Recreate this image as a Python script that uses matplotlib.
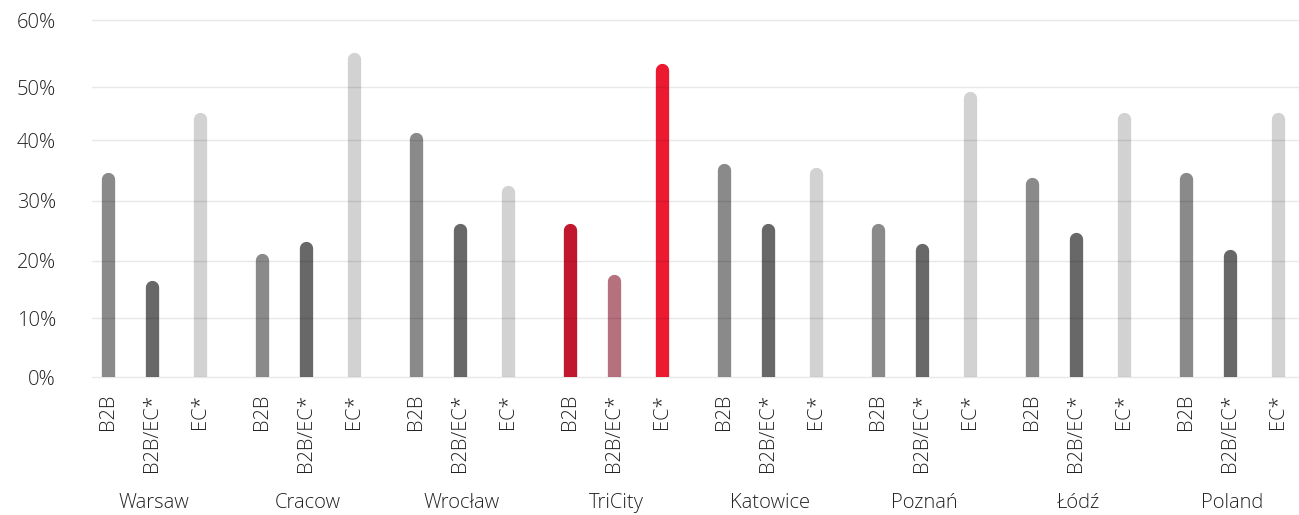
import numpy as np
import matplotlib
matplotlib.use("Agg")
import matplotlib.pyplot as plt
from matplotlib.transforms import ScaledTranslation

# Data (share of respondents, %)
cities = ["Warsaw", "Cracow", "Wrocław", "TriCity", "Katowice", "Poznań", "Łódź", "Poland"]
series = ["B2B", "B2B/EC*", "EC*"]
b2b = [34.6, 21.3, 41.4, 26.2, 36.2, 26.2, 33.8, 34.6]
b2b_ec = [16.6, 23.2, 26.2, 17.7, 26.2, 22.9, 24.8, 21.9]
ec = [45.3, 55.2, 32.5, 53.6, 35.5, 49.2, 45.3, 45.3]
y_ticks = [0, 10, 20, 30, 40, 50, 60]
y_tick_labels = ["0%", "10%", "20%", "30%", "40%", "50%", "60%"]

highlight = "TriCity"
grey_colors = ["#8a8a8a", "#686868", "#d2d2d2"]
red_colors = ["#c2182f", "#b6717f", "#ec1a31"]

# vertical axis: gridline positions as fractions of the axis height
grid_frac = np.array([0.0, 0.1651, 0.3263, 0.4943, 0.6641, 0.8116, 1.0])
tick_vals = np.array(y_ticks, dtype=float)


def fwd(v):
    return np.interp(v, tick_vals, grid_frac * 60.0)


def inv(u):
    return np.interp(u, grid_frac * 60.0, tick_vals)


W, H, DPI = 1299, 515, 100
fig = plt.figure(figsize=(W / DPI, H / DPI), dpi=DPI)
left_px, right_px, top_px, bottom_px = 92, 1299, 20, 377.3
ax = fig.add_axes([left_px / W, 1 - bottom_px / H,
                   (right_px - left_px) / W, (bottom_px - top_px) / H])
ax.set_yscale("function", functions=(fwd, inv))

font = "Open Sans"
fsize = 14.5
fweight = "light"
text_color = "#222222"

group_step = 154.0
x0_px = 154.0
ax.set_xlim((left_px - x0_px) / group_step, (right_px - x0_px) / group_step)
ax.set_ylim(0, 60)

offsets = [-0.30, -0.01, 0.30]
values = [b2b, b2b_ec, ec]
bar_px = 13.3
r_in = bar_px / 2 / DPI
shift = ax.transData + ScaledTranslation(0, -r_in, fig.dpi_scale_trans)

xpos, xlab = [], []
for i, city in enumerate(cities):
    cols = red_colors if city == highlight else grey_colors
    for j, s in enumerate(series):
        x = i + offsets[j]
        lc = ax.vlines(x, 0, values[j][i], colors=cols[j],
                       linewidth=bar_px * 72 / DPI, transform=shift, zorder=2)
        lc.set_capstyle("round")
        xpos.append(x)
        xlab.append(s)

# gridlines drawn over the bars
for t in y_ticks:
    ax.axhline(t, color="black", alpha=0.09, lw=1.0, zorder=3, clip_on=False)

ax.set_yticks(y_ticks)
ax.set_yticklabels(y_tick_labels, fontfamily=font, fontsize=fsize,
                   fontweight=fweight, color=text_color)
ax.yaxis.set_minor_locator(matplotlib.ticker.NullLocator())
ax.tick_params(axis="y", length=0, pad=26)

ax.set_xticks(xpos)
ax.set_xticklabels(xlab, rotation=90, fontfamily=font, fontsize=fsize,
                   fontweight=fweight, color=text_color, va="top", ha="center")
ax.tick_params(axis="x", length=0, pad=12)

for spine in ax.spines.values():
    spine.set_visible(False)

for i, city in enumerate(cities):
    ax.annotate(city, xy=(i, 0), xycoords=("data", "axes fraction"),
                xytext=(0, -125.7 * 72 / DPI), textcoords="offset points",
                ha="center", va="center", fontfamily=font, fontsize=fsize,
                fontweight=fweight, color=text_color)

fig.savefig("out.png", dpi=DPI)
